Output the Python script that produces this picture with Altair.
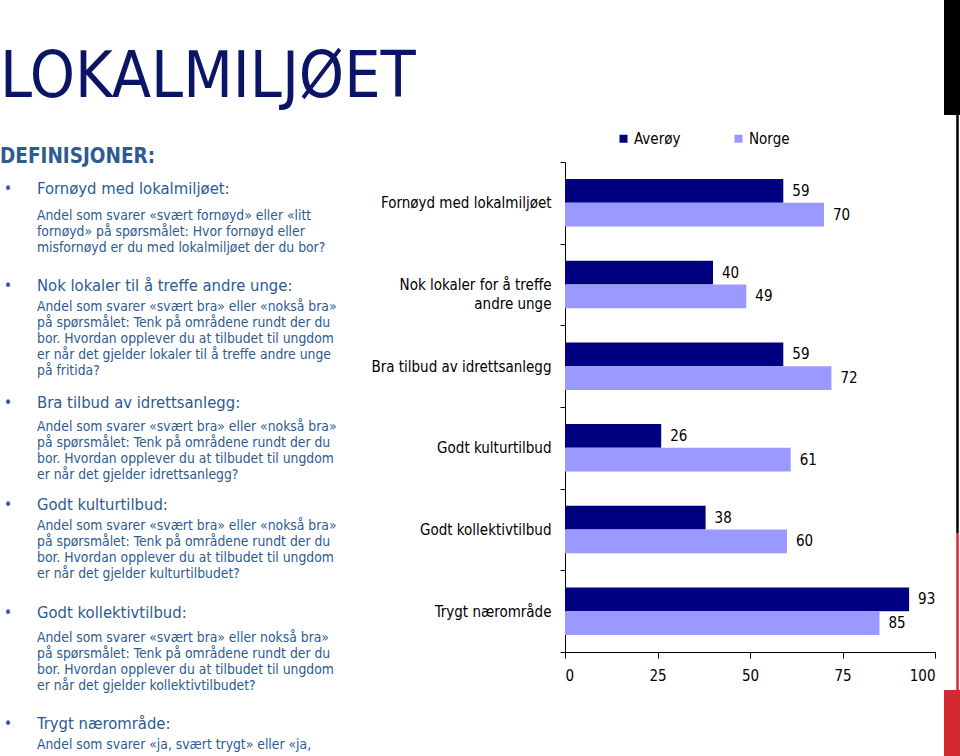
import altair as alt
import pandas as pd

# ---------------- data ----------------
categories = [
    "Fornøyd med lokalmiljøet",
    "Nok lokaler for å treffe andre unge",
    "Bra tilbud av idrettsanlegg",
    "Godt kulturtilbud",
    "Godt kollektivtilbud",
    "Trygt nærområde",
]
averoy = [59, 40, 59, 26, 38, 93]
norge = [70, 49, 72, 61, 60, 85]
series_names = ["Averøy", "Norge"]
x_ticks = [0, 25, 50, 75, 100]

title_text = "LOKALMILJØET"
defs_title = "DEFINISJONER:"
def_headings = [
    "Fornøyd med lokalmiljøet:",
    "Nok lokaler til å treffe andre unge:",
    "Bra tilbud av idrettsanlegg:",
    "Godt kulturtilbud:",
    "Godt kollektivtilbud:",
    "Trygt nærområde:",
]
def_bodies = [
    ["Andel som svarer «svært fornøyd» eller «litt",
     "fornøyd» på spørsmålet: Hvor fornøyd eller",
     "misfornøyd er du med lokalmiljøet der du bor?"],
    ["Andel som svarer «svært bra» eller «nokså bra»",
     "på spørsmålet: Tenk på områdene rundt der du",
     "bor. Hvordan opplever du at tilbudet til ungdom",
     "er når det gjelder lokaler til å treffe andre unge",
     "på fritida?"],
    ["Andel som svarer «svært bra» eller «nokså bra»",
     "på spørsmålet: Tenk på områdene rundt der du",
     "bor. Hvordan opplever du at tilbudet til ungdom",
     "er når det gjelder idrettsanlegg?"],
    ["Andel som svarer «svært bra» eller «nokså bra»",
     "på spørsmålet: Tenk på områdene rundt der du",
     "bor. Hvordan opplever du at tilbudet til ungdom",
     "er når det gjelder kulturtilbudet?"],
    ["Andel som svarer «svært bra» eller nokså bra»",
     "på spørsmålet: Tenk på områdene rundt der du",
     "bor. Hvordan opplever du at tilbudet til ungdom",
     "er når det gjelder kollektivtilbudet?"],
    ["Andel som svarer «ja, svært trygt» eller «ja,"],
]

# ---------------- layout / style ----------------
FONT = "DejaVu Sans Condensed, Liberation Sans Narrow, Liberation Sans, sans-serif"
OX, OY = 565, 162          # plot origin in page pixels
PW, PH = 370, 490          # plot size
NAVY = "#000080"
LILAC = "#9999ff"
TEXT_BLUE = "#2d5b91"
TITLE_BLUE = "#0b1565"

heading_y = [189, 286, 403, 505, 613, 724]
body_y0 = [216, 307, 427, 526, 638, 745]
body_dy = 16

# ---------------- chart data ----------------
rows = []
for c, a, n in zip(categories, averoy, norge):
    rows.append({"category": c, "series": series_names[0], "value": a})
    rows.append({"category": c, "series": series_names[1], "value": n})
df = pd.DataFrame(rows)

y_enc = alt.Y(
    "category:N",
    sort=categories,
    scale=alt.Scale(paddingInner=0, paddingOuter=0),
    axis=alt.Axis(
        title=None,
        tickBand="extent",
        labelExpr="datum.label == 'Nok lokaler for å treffe andre unge' ? ['Nok lokaler for å treffe', 'andre unge'] : datum.label",
        domainColor="black",
        tickColor="black",
        tickSize=5,
        labelPadding=9,
        labelFont=FONT,
        labelFontSize=15,
        labelColor="black",
        labelLimit=300,
        labelLineHeight=19,
    ),
)
yoff = alt.YOffset("series:N", sort=series_names,
                   scale=alt.Scale(paddingInner=0, paddingOuter=0.72))
x_enc = alt.X(
    "value:Q",
    scale=alt.Scale(domain=[0, 100], nice=False),
    axis=alt.Axis(
        values=x_ticks,
        title=None,
        grid=False,
        domainColor="black",
        tickColor="black",
        tickSize=6,
        labelPadding=10,
        labelFont=FONT,
        labelFontSize=15,
        labelColor="black",
    ),
)
color = alt.Color(
    "series:N",
    sort=series_names,
    scale=alt.Scale(domain=series_names, range=[NAVY, LILAC]),
    legend=alt.Legend(
        title=None,
        orient="none",
        legendX=51,
        legendY=-31,
        direction="horizontal",
        symbolType="square",
        symbolSize=64,
        symbolStrokeWidth=0,
        labelFont=FONT,
        labelFontSize=15,
        labelColor="black",
        labelOffset=3,
        columnPadding=50,
        padding=0,
    ),
)

base = alt.Chart(df)
bars = base.mark_bar().encode(x=x_enc, y=y_enc, yOffset=yoff, color=color)
values = base.mark_text(align="left", baseline="middle", dx=9, font=FONT,
                        fontSize=15, color="black").encode(
    x="value:Q", y=alt.Y("category:N", sort=categories), yOffset=yoff,
    text="value:Q")

# ---------------- left-hand text ----------------
def rel_x(px):
    return px - OX

def rel_y(py):
    return py - OY

one = pd.DataFrame({"d": [0]})

title_layer = alt.Chart(one).mark_text(
    text=title_text, align="left", baseline="alphabetic", font=FONT,
    fontSize=64, color=TITLE_BLUE).encode(
    x=alt.value(rel_x(0)), y=alt.value(rel_y(97)))

defs_layer = alt.Chart(one).mark_text(
    text=defs_title, align="left", baseline="middle", font=FONT,
    fontSize=20.5, fontWeight="bold", color=TEXT_BLUE).encode(
    x=alt.value(rel_x(0)), y=alt.value(rel_y(157)))

head_df = pd.DataFrame({
    "text": def_headings,
    "x": [rel_x(37)] * len(def_headings),
    "y": [rel_y(v) for v in heading_y],
})
bullet_df = pd.DataFrame({
    "text": ["•"] * len(def_headings),
    "x": [rel_x(4)] * len(def_headings),
    "y": [rel_y(v) for v in heading_y],
})
body_rows = []
for lines, y0 in zip(def_bodies, body_y0):
    for i, line in enumerate(lines):
        body_rows.append({"text": line, "x": rel_x(37), "y": rel_y(y0 + i * body_dy)})
body_df = pd.DataFrame(body_rows)

def text_layer(frame, size):
    return alt.Chart(frame).mark_text(
        align="left", baseline="middle", font=FONT, fontSize=size,
        color=TEXT_BLUE).encode(
        x=alt.X("x:Q", scale=None, axis=None),
        y=alt.Y("y:Q", scale=None, axis=None),
        text="text:N")

head_layer = text_layer(head_df, 16.5)
bullet_layer = text_layer(bullet_df, 15)
body_layer = text_layer(body_df, 13.8)

# ---------------- decorative edge bars ----------------
black_block = alt.Chart(one).mark_rect(color="black").encode(
    x=alt.value(rel_x(944)), x2=alt.value(rel_x(960)),
    y=alt.value(rel_y(0)), y2=alt.value(rel_y(115)))
black_line = alt.Chart(one).mark_rule(color="black", strokeWidth=2.5).encode(
    x=alt.value(rel_x(957.5)), y=alt.value(rel_y(115)), y2=alt.value(rel_y(533)))
red_line = alt.Chart(one).mark_rule(color="#d22a30", strokeWidth=2.5).encode(
    x=alt.value(rel_x(957.5)), y=alt.value(rel_y(533)), y2=alt.value(rel_y(690)))
red_block = alt.Chart(one).mark_rect(color="#d22a30").encode(
    x=alt.value(rel_x(944)), x2=alt.value(rel_x(960)),
    y=alt.value(rel_y(690)), y2=alt.value(rel_y(756)))

chart = alt.layer(
    bars, values, title_layer, defs_layer, bullet_layer, head_layer, body_layer,
    black_block, black_line, red_line, red_block,
).properties(
    width=PW, height=PH,
    autosize=alt.AutoSizeParams(type="none"),
    padding={"left": OX, "top": OY, "right": 960 - OX - PW, "bottom": 756 - OY - PH},
    background="white",
).configure_view(stroke=None)

chart.save("out.html", embed_options={"renderer": "svg", "actions": False})
